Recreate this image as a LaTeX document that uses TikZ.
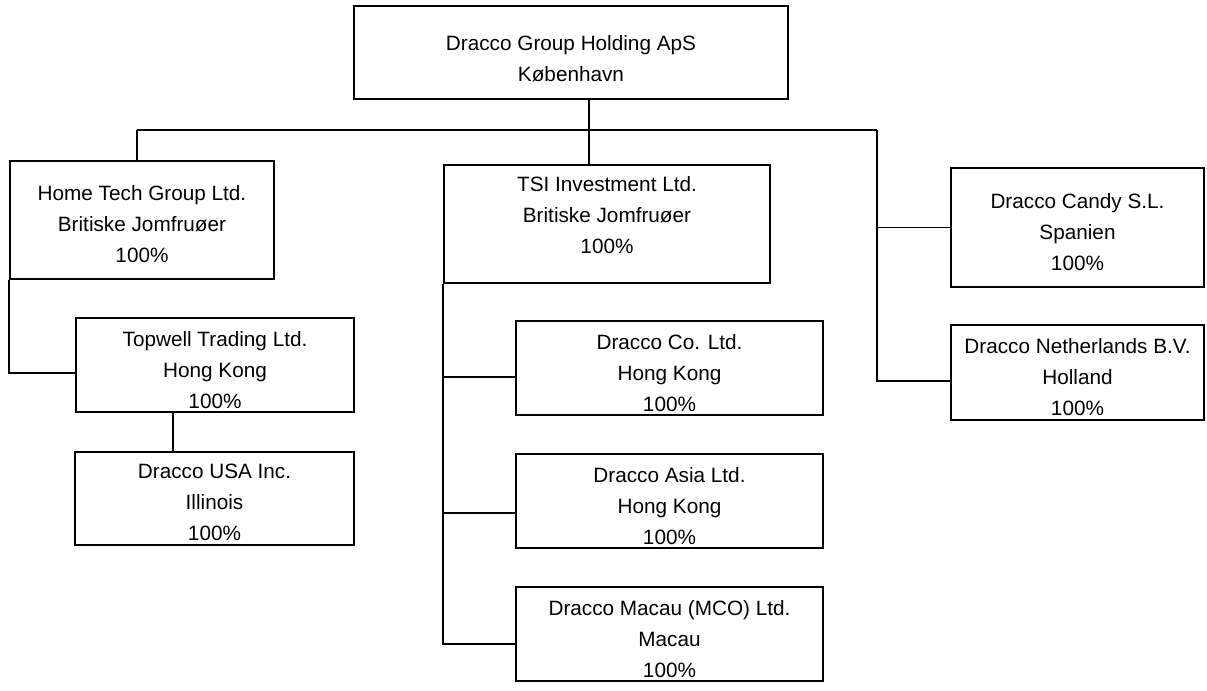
\documentclass[tikz,border=0pt]{standalone}
\usepackage{fontspec}
\setmainfont{Liberation Sans}
\usepackage{tikz}
\usetikzlibrary{positioning}

\newcommand{\firmgap}[1][0.5cm]{\rule{0pt}{#1}}
\tikzset{firm/.style={draw, line width=0.9pt, align=center, inner sep=0pt,
    font=\fontsize{11.8}{17.6}\selectfont},
  link/.style={line width=0.9pt}}

\begin{document}
\begin{tikzpicture}[x=0.02cm, y=-0.02cm]
      \useasboundingbox (0,0) rectangle (1207,690);
      \node[firm, minimum width=8.68cm, minimum height=1.86cm] at (571,52.5) (top) {\firmgap[0.56cm]Dracco Group Holding ApS\\K\o benhavn};
      \node[firm, minimum width=5.28cm, minimum height=2.36cm] at (142,220) (home) {\firmgap[0.46cm]Home Tech Group Ltd.\\Britiske Jomfru\o er\\100\%};
      \node[firm, text depth=0.36cm, minimum width=6.52cm, minimum height=2.36cm] at (607,224) (tsi) {TSI Investment Ltd.\\Britiske Jomfru\o er\\100\%};
      \node[firm, minimum width=5.06cm, minimum height=2.38cm] at (1077.5,227.5) (candy) {\firmgap[0.48cm]Dracco Candy S.L.\\Spanien\\100\%};
      \node[firm, minimum width=5.06cm, minimum height=1.90cm] at (1077.5,372.5) (neth) {\firmgap Dracco Netherlands B.V.\\Holland\\100\%};
      \node[firm, minimum width=5.56cm, minimum height=1.88cm] at (215,365) (topwell) {\firmgap Topwell Trading Ltd.\\Hong Kong\\100\%};
      \node[firm, minimum width=5.58cm, minimum height=1.86cm] at (214.5,498.5) (usa) {\firmgap[0.46cm]Dracco USA Inc.\\Illinois\\100\%};
      \node[firm, minimum width=6.14cm, minimum height=1.88cm] at (669.5,368) (co) {\firmgap Dracco Co. Ltd.\\Hong Kong\\100\%};
      \node[firm, minimum width=6.14cm, minimum height=1.88cm] at (669.5,501) (asia) {\firmgap Dracco Asia Ltd.\\Hong Kong\\100\%};
      \node[firm, minimum width=6.14cm, minimum height=1.88cm] at (669.5,634) (macau) {\firmgap Dracco Macau (MCO) Ltd.\\Macau\\100\%};
      \coordinate (bus) at (589,130);
      \coordinate (lbus) at (137,130);
      \coordinate (rbus) at (877,130);
      \coordinate (tw) at (173,0);
      \draw[link] (top.south -| bus) -- (bus);
      \draw[link] (lbus) -- (rbus);
      \draw[link] (lbus) -- (lbus |- home.north);
      \draw[link] (bus) -- (bus |- tsi.north);
      \draw[link] (rbus) |- ([yshift=-0.17cm]neth.west);
      \draw[link] (rbus |- candy.west) -- (candy.west);
      \draw[link] (home.south west) |- ([yshift=-0.16cm]topwell.west);
      \draw[link] (topwell.south -| tw) -- (usa.north -| tw);
      \draw[link] (tsi.south west) |- ([yshift=-0.2cm]macau.west);
      \draw[link] (tsi.south west |- co.west) ++(0,9) -- ([yshift=-0.18cm]co.west);
      \draw[link] (tsi.south west |- asia.west) ++(0,12) -- ([yshift=-0.24cm]asia.west);
    \end{tikzpicture}
\end{document}
